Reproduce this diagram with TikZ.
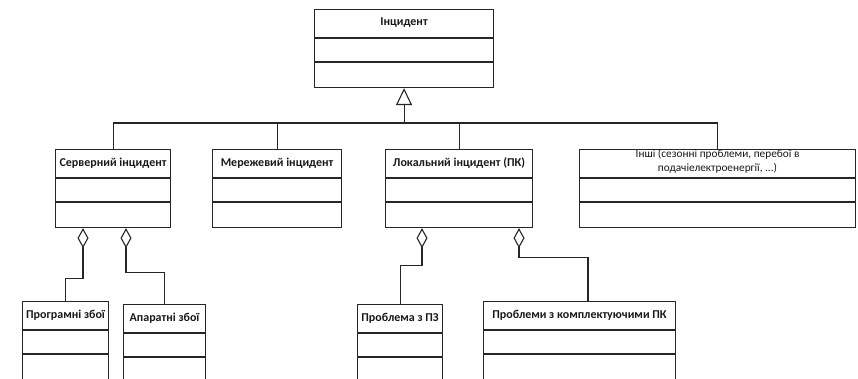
\documentclass[tikz,border=0pt]{standalone}
\usepackage{fontspec}
\setmainfont{Carlito}
\usetikzlibrary{arrows.meta,calc}

\tikzset{
  cls/.style={draw=black!85, line width=1.1pt, rectangle, anchor=north west, inner sep=0pt},
  lbl/.style={font=\bfseries\fontsize{12}{14}\selectfont, text=black!90, align=center},
  link/.style={draw=black!85, line width=1.1pt},
  gen/.style={link, -{Triangle[open,length=17pt,width=16pt]}},
  agg/.style={link, {Diamond[open,length=20pt,width=11pt]}-},
}
% class box: [label style] name, corner, width, height, label
\newcommand{\umlcls}[6][]{%
  \node[cls, minimum width=#4, minimum height=#5] (#2) at (#3) {};
  \node[lbl, #1] (#2-t) at ($(#2.north)+(0,14)$) {#6};
  \draw[link] ($(#2.north west)+(0,29)$) -- ($(#2.north east)+(0,29)$);
  \draw[link] ($(#2.north west)+(0,53)$) -- ($(#2.north east)+(0,53)$);
}

\begin{document}
\begin{tikzpicture}[x=1pt,y=-1pt]
  \useasboundingbox (0,0) rectangle (858,379);
  \clip (0,0) rectangle (858,379);

  % classes
  \umlcls{inc}{314,9}{179}{78}{Інцидент}
  \umlcls{srv}{55,149}{115}{78}{Серверний інцидент}
  \umlcls{mrz}{212,149}{129}{78}{Мережевий інцидент}
  \umlcls{lok}{385,149}{147}{78}{Локальний інцидент (ПК)}
  \umlcls[font=\fontsize{11.3}{14}\selectfont, yshift=2pt]{ins}{579,149}{276}{78}{Інші (сезонні проблеми, перебої в\\подачіелектроенергії, ...)}
  \umlcls{prg}{22,301}{86}{100}{Програмні збої}
  \umlcls{app}{123,304}{82}{100}{Апаратні збої}
  \umlcls{prb}{357,304}{85}{100}{Проблема з ПЗ}
  \umlcls{kmp}{483,301}{192}{100}{Проблеми з комплектуючими ПК}

  % generalisation
  \coordinate (bus) at (403.5,123);
  \draw[link] (srv.north) |- (ins.north |- bus) -- (ins.north);
  \draw[link] (mrz.north) -- (mrz.north |- bus);
  \draw[link] (lok.north) -- (lok.north |- bus);
  \draw[gen] (inc.south |- bus) -- (inc.south);

  % aggregation
  \draw[agg] ($(srv.south west)+(28,0)$) -- ++(0,50) -| (prg.north);
  \draw[agg] ($(srv.south west)+(71,0)$) -- ++(0,44) -| (app.north);
  \draw[agg] ($(lok.south west)+(37,0)$) -- ++(0,37) -| (prb.north);
  \draw[agg] ($(lok.south west)+(134,0)$) -- ++(0,29) -| ($(kmp.north west)+(105,0)$);
\end{tikzpicture}
\end{document}
